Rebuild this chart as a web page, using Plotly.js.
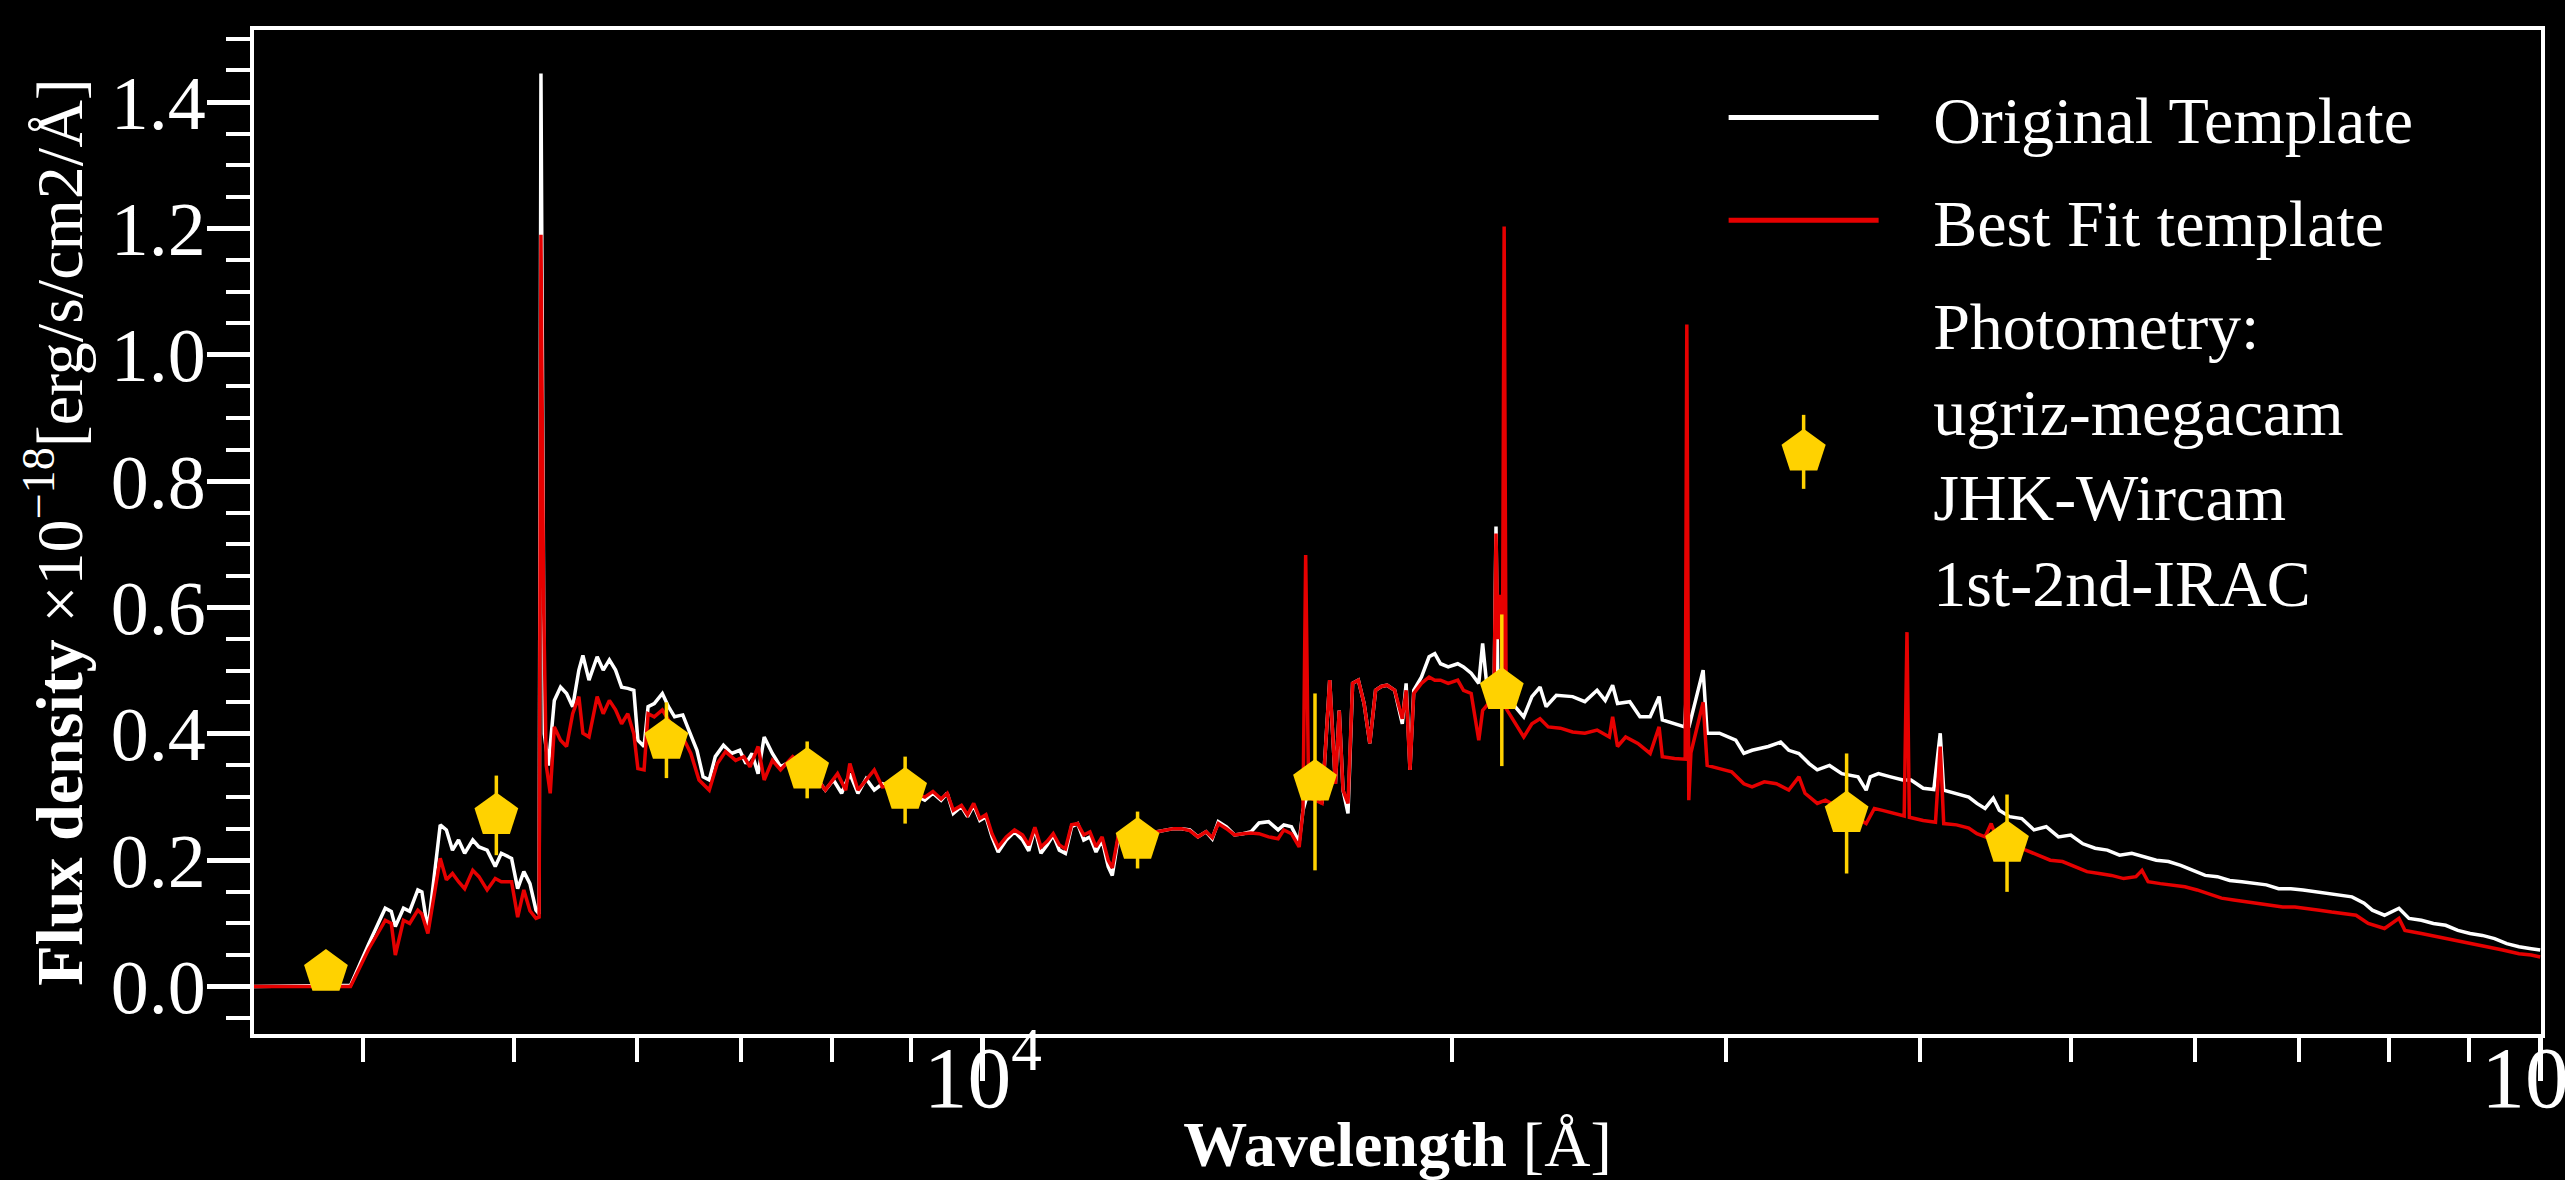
<!DOCTYPE html>
<html>
<head>
<meta charset="utf-8">
<script src="https://cdn.plot.ly/plotly-3.0.1.min.js"></script>
<style>
html,body{margin:0;padding:0;background:#000;}
#chart{width:2565px;height:1180px;}
.legend .legendlines path{stroke-width:5px !important;}
</style>
</head>
<body>
<div id="chart"></div>
<script>
// Original template spectrum (wavelength in Angstrom, flux in 1e-18 erg/s/cm2/A)
const wlOrig = [3390,3927,4035,4134,4171,4196,4247,4286,4338,4364,4403,4484,4525,4566,4607,4649,4705,4748,4806,4864,4908,4983,5028,5074,5120,5166,5190,5204,5230,5262,5308,5357,5405,5454,5504,5537,5587,5655,5706,5758,5811,5863,5917,5970,6006,6061,6097,6153,6227,6284,6341,6418,6495,6554,6614,6674,6734,6816,6899,6982,7046,7110,7174,7239,7327,7416,7551,7689,7782,7924,8020,8117,8216,8315,8416,8518,8621,
8747,8917,9179,9290,9403,9488,9574,9690,9778,9867,9957,10047,10138,10231,10354,10481,10607,10704,10801,10899,10998,11098,11199,11300,11403,11506,11611,11717,11823,11930,12038,12111,12221,12332,12633,12941,13099,13257,13418,13581,13746,13912,14039,14166,14338,14511,14689,14866,
15044,15259,15475,15607,15784,15965,16055,16191,16374,16514,16702,16843,16939,17034,17160,17277,17424,17573,17722,17874,18025,18180,18386,18594,18700,18807,18912,19128,19346,19510,19676,19900,20183,20355,20587,20820,20939,21117,21296,21357,21420,21480,
21853,22251,22521,22794,23000,23350,23918,24356,24800,25101,25376,25560,26028,26423,26824,27180,27311,27809,28232,28318,28400,29009,29183,29717,30441,30809,31186,31945,32529,32923,33424,33930,34342,34969,35608,36475,36917,37141,37591,38275,38973,39446,40164,40800,
41187,41400,42193,42964,43483,44010,44545,44946,45630,46463,47311,48175,49055,49952,50860,51785,52730,53695,54672,55673,56687,57720,58773,59847,60940,62050,63184,64338,65512,66710,67920,69162,70425,71707,73014,74353,75704,77079,78016,79435,81152,82366,83886,85394,86950,88534,90154,91799,93475,95171,96912,98678,100000];
const fluxOrig = [0.000,0.002,0.068,0.124,0.119,0.095,0.124,0.119,0.153,0.150,0.089,0.256,0.248,0.216,0.232,0.211,0.232,0.221,0.216,0.190,0.211,0.203,0.155,0.182,0.163,0.121,0.115,1.445,0.400,0.350,0.453,0.474,0.464,0.443,0.501,0.524,0.485,0.522,0.501,0.517,0.501,0.474,0.472,0.469,0.390,0.380,0.443,0.448,0.464,0.443,0.427,0.430,0.398,0.374,0.332,0.327,0.364,0.382,0.369,0.374,0.353,0.369,0.337,0.395,0.369,0.348,0.358,0.350,0.337,0.311,0.327,0.306,0.337,0.306,0.329,0.311,0.321,
0.316,0.311,0.295,0.306,0.295,0.306,0.274,0.285,0.269,0.287,0.263,0.269,0.237,0.213,0.232,0.245,0.232,0.215,0.250,0.211,0.224,0.240,0.216,0.211,0.253,0.258,0.232,0.237,0.213,0.232,0.190,0.176,0.237,0.240,0.245,0.245,0.248,0.250,0.250,0.248,0.237,0.245,0.234,0.261,0.253,0.240,0.242,0.245,
0.259,0.261,0.248,0.256,0.253,0.229,0.279,0.311,0.306,0.290,0.485,0.321,0.437,0.311,0.274,0.480,0.485,0.448,0.385,0.469,0.475,0.477,0.469,0.416,0.480,0.343,0.469,0.490,0.522,0.527,0.511,0.506,0.511,0.506,0.496,0.480,0.543,0.453,0.459,0.728,0.460,0.465,
0.450,0.427,0.459,0.474,0.443,0.461,0.459,0.451,0.469,0.453,0.477,0.448,0.451,0.427,0.427,0.459,0.422,0.416,0.411,0.485,0.410,0.501,0.401,0.401,0.390,0.369,0.374,0.380,0.387,0.374,0.369,0.353,0.343,0.350,0.337,0.332,0.311,0.332,0.337,0.332,0.327,0.327,0.314,0.312,
0.401,0.311,0.306,0.300,0.290,0.282,0.298,0.279,0.269,0.266,0.248,0.253,0.237,0.240,0.226,0.219,0.216,0.208,0.211,0.205,0.200,0.198,0.192,0.184,0.176,0.174,0.168,0.166,0.163,0.161,0.155,0.155,0.153,0.150,0.147,0.145,0.142,0.132,0.121,0.113,0.124,0.108,0.105,0.100,0.097,0.089,0.084,0.081,0.076,0.068,0.063,0.060,0.058];

// Best-fit template spectrum
const wlFit = [3390,3927,4035,4134,4171,4196,4247,4286,4338,4364,4403,4484,4525,4566,4607,4649,4705,4748,4806,4864,4908,4983,5028,5074,5120,5166,5190,5204,5225,5245,5276,5308,5357,5405,5454,5504,5537,5587,5655,5706,5758,5811,5863,5917,5970,6006,6061,6097,6153,6227,6284,6341,6418,6495,6574,6674,6754,6837,6940,7025,7089,7174,7239,7327,7416,7551,7643,7782,7924,8068,8166,8216,8315,8416,8518,8621,
8747,8917,9179,9290,9403,9488,9574,9690,9778,9867,9957,10047,10138,10231,10354,10481,10607,10704,10801,10899,10998,11098,11199,11300,11403,11506,11611,11717,11823,11930,12038,12111,12221,12332,12633,12941,13099,13257,13418,13581,13746,13912,14039,14166,14338,14511,14689,14866,
15044,15259,15475,15607,15784,15965,16055,16119,16191,16374,16514,16702,16843,16939,17034,17160,17277,17424,17573,17722,17874,18025,18180,18386,18594,18700,18807,18912,19128,19346,19510,19676,19900,20183,20355,20587,20820,20939,21117,21296,21357,21420,21500,21560,21616,21680,
21853,22251,22521,22794,23071,23491,23918,24356,24800,25253,25376,25560,25869,26341,26824,27180,27311,27809,28250,28318,28400,28490,29009,29183,29717,30258,30809,31186,31754,32331,32923,33424,33726,34342,34758,35392,36039,36917,37366,37817,38507,39050,39212,39350,40164,40900,
41187,41400,42193,42964,43483,44010,44408,44810,45907,46744,47596,48464,49349,50254,51166,52099,53052,54021,55006,55504,56007,57028,58069,59131,60208,61310,62424,63566,64728,65910,67108,68334,69580,70847,72141,73460,74795,76158,77546,79435,81152,81868,83886,85908,88003,90154,92349,94608,96912,98678,100000];
const fluxFit = [0.000,0.000,0.060,0.105,0.100,0.050,0.105,0.100,0.121,0.115,0.084,0.203,0.169,0.179,0.166,0.155,0.184,0.174,0.153,0.171,0.166,0.166,0.110,0.153,0.120,0.108,0.110,1.190,0.600,0.350,0.306,0.411,0.390,0.380,0.432,0.459,0.401,0.395,0.459,0.432,0.453,0.438,0.416,0.432,0.400,0.345,0.343,0.432,0.427,0.438,0.422,0.401,0.395,0.369,0.327,0.311,0.353,0.372,0.358,0.364,0.348,0.380,0.327,0.358,0.343,0.364,0.353,0.337,0.311,0.337,0.311,0.353,0.311,0.327,0.343,0.316,
0.318,0.311,0.300,0.309,0.297,0.306,0.279,0.287,0.272,0.290,0.266,0.272,0.242,0.221,0.237,0.248,0.240,0.224,0.252,0.221,0.230,0.242,0.224,0.218,0.256,0.258,0.240,0.245,0.221,0.237,0.200,0.188,0.240,0.240,0.245,0.245,0.248,0.250,0.250,0.247,0.237,0.245,0.236,0.258,0.250,0.240,0.242,0.243,
0.242,0.237,0.234,0.248,0.242,0.221,0.279,0.683,0.300,0.295,0.290,0.485,0.321,0.437,0.311,0.290,0.480,0.485,0.448,0.385,0.469,0.475,0.477,0.469,0.424,0.469,0.343,0.464,0.480,0.490,0.485,0.485,0.480,0.485,0.469,0.464,0.390,0.437,0.448,0.469,0.717,0.550,0.620,0.480,1.203,0.440,
0.427,0.395,0.416,0.424,0.411,0.409,0.403,0.401,0.406,0.395,0.427,0.380,0.395,0.385,0.369,0.411,0.364,0.361,0.360,1.048,0.295,0.370,0.450,0.350,0.345,0.340,0.321,0.316,0.324,0.321,0.311,0.332,0.306,0.290,0.295,0.285,0.274,0.258,0.282,0.279,0.274,0.270,0.561,0.268,0.263,0.260,
0.380,0.258,0.256,0.251,0.242,0.237,0.258,0.232,0.221,0.216,0.208,0.200,0.198,0.190,0.182,0.179,0.176,0.171,0.174,0.184,0.166,0.163,0.161,0.158,0.153,0.147,0.140,0.137,0.134,0.132,0.129,0.126,0.126,0.124,0.121,0.118,0.116,0.113,0.100,0.092,0.108,0.089,0.084,0.079,0.074,0.068,0.063,0.058,0.052,0.050,0.047];

// Photometry (ugriz-megacam, JHK-Wircam, IRAC 1-2)
const photWl   = [3787, 4872, 6265, 7714, 8916, 12572, 16343, 21541, 35864, 45463];
const photFlux = [0.023, 0.271, 0.390, 0.343, 0.311, 0.232, 0.324, 0.469, 0.274, 0.227];
const photErr  = [0.004, 0.063, 0.060, 0.045, 0.053, 0.045, 0.140, 0.120, 0.095, 0.077];

// Legend labels
const legendNames = ['Original Template', 'Best Fit template',
                     ['Photometry:', 'ugriz-megacam', 'JHK-Wircam', '1st-2nd-IRAC']];

const FONT = 'Liberation Serif, DejaVu Serif, serif';
const GOLD = '#FFD200';
const PAD = '\u00a0\u00a0\u00a0';

const traces = [
  {x: wlOrig, y: fluxOrig, type: 'scatter', mode: 'lines', name: PAD + legendNames[0], legendgroup: 'a',
   line: {color: '#ffffff', width: 3.5}},
  {x: wlFit, y: fluxFit, type: 'scatter', mode: 'lines', name: PAD + legendNames[1], legendgroup: 'b',
   line: {color: '#e60000', width: 3.5}},
  {x: photWl, y: photFlux, type: 'scatter', mode: 'markers', legendgroup: 'c',
   name: legendNames[2].map(s => PAD + s).join('<br>'),
   marker: {symbol: 'pentagon', size: 46, color: GOLD, line: {width: 0}},
   error_y: {type: 'data', array: photErr, visible: true, color: GOLD, thickness: 3.5, width: 0}}
];

const layout = {
  width: 2565, height: 1180,
  paper_bgcolor: '#000', plot_bgcolor: '#000',
  margin: {l: 254, r: 24, t: 30, b: 146, pad: 0},
  font: {family: FONT, color: '#fff', size: 64},
  showlegend: true,
  legend: {x: 0.6426, y: 0.962, xanchor: 'left', yanchor: 'top', bgcolor: 'rgba(0,0,0,0)',
           font: {family: FONT, color: '#fff', size: 66}, itemwidth: 150, tracegroupgap: 14,
           traceorder: 'grouped'},
  xaxis: {
    type: 'log', range: [3.5321, 5.0005],
    showline: true, linecolor: '#fff', linewidth: 4, mirror: true,
    showgrid: false, zeroline: false,
    ticks: 'outside', ticklen: 43, tickwidth: 5, tickcolor: '#fff',
    dtick: 1, exponentformat: 'power',
    ticklabelstandoff: -76, ticklabeloverflow: 'allow',
    tickfont: {family: FONT, size: 70, color: '#fff'},
    minor: {ticks: 'outside', ticklen: 24, tickwidth: 4, tickcolor: '#fff', dtick: 'D1', showgrid: false},
    title: {text: '<b>Wavelength</b> [Å]', font: {family: FONT, size: 64, color: '#fff'}, standoff: 78},
    automargin: false
  },
  yaxis: {
    range: [-0.075, 1.514],
    showline: true, linecolor: '#fff', linewidth: 4, mirror: true,
    showgrid: false, zeroline: false,
    ticks: 'outside', ticklen: 43, tickwidth: 5, tickcolor: '#fff',
    tick0: 0, dtick: 0.2, tickformat: '.1f',
    ticklabelstandoff: -14,
    tickfont: {family: FONT, size: 76, color: '#fff'},
    minor: {ticks: 'outside', ticklen: 24, tickwidth: 4, tickcolor: '#fff', dtick: 0.05, showgrid: false},
    title: {text: '<b>Flux density</b> ×10<sup>−18</sup>[erg/s/cm2/Å]', font: {family: FONT, size: 66, color: '#fff'}, standoff: 8},
    automargin: false
  }
};

const gd = document.getElementById('chart');
Plotly.newPlot(gd, traces, layout, {displayModeBar: false, staticPlot: true}).then(() => {
  // enlarge the legend pentagon (legend caps marker size) and give it its error bar
  gd.querySelectorAll('.legend .legendpoints path.scatterpts').forEach(p => {
    const t = p.getAttribute('transform') || '';
    const bar = document.createElementNS('http://www.w3.org/2000/svg', 'path');
    bar.setAttribute('d', 'M0,-37V37');
    bar.setAttribute('transform', t);
    bar.setAttribute('style', 'stroke:' + GOLD + ';stroke-width:3.5px;fill:none;');
    p.parentNode.insertBefore(bar, p);
    p.setAttribute('transform', t + ' scale(2.9)');
  });
});
</script>
</body>
</html>
